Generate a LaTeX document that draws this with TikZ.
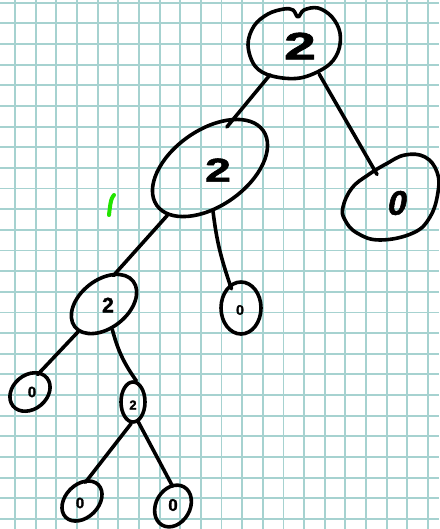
\documentclass[tikz,border=0pt]{standalone}
\usepackage{fontspec}
\setmainfont{Liberation Sans}
\newfontfamily\hand[FakeBold=1.6]{Liberation Sans}
\usetikzlibrary{shapes.geometric}
\definecolor{gridc}{RGB}{166,210,208}
\definecolor{hgreen}{RGB}{34,228,0}
\begin{document}
\begin{tikzpicture}[x=1pt,y=-1pt,
  gridline/.style={gridc, line width=1.9pt},
  bub/.style={draw=black, ellipse, line width=3.6pt, inner sep=0pt},
  hid/.style={ellipse, inner sep=0pt},
  outline/.style={draw=black, line width=3.6pt, line join=round},
  edge/.style={draw=black, line width=3.6pt, line cap=round},
  dig/.style={inner sep=0pt, text=black},
  mark1/.style={hgreen, line width=4pt, line cap=round}]
\fill[white] (0,0) rectangle (439,529);
\useasboundingbox (0,0) rectangle (439,529);
% grid paper
\foreach \k in {0,...,20}{
  \draw[gridline] ({15+20.65*\k},0) -- ({15+20.65*\k},529);
}
\foreach \k in {0,...,25}{
  \draw[gridline] (0,{2.7+20.65*\k}) -- (439,{2.7+20.65*\k});
}
% root (hand-drawn outline)
\node[hid, minimum width=92pt, minimum height=74pt] (r) at (294,43) {};
\draw[outline] plot[smooth cycle, tension=0.6] coordinates {(248,45) (254,26) (268,14) (284,9) (293,10) (298,17) (304,10) (318,8) (332,17) (340,33) (338,52) (326,67) (300,78) (272,76) (255,66)};
\node[dig, font=\fontsize{38}{38}\selectfont\hand\bfseries, xscale=1.5] (t0) at (300,46) {2};
% right child 0
\node[hid, minimum width=96pt, minimum height=84pt, rotate=25] (R) at (390,197) {};
\draw[outline] plot[smooth cycle, tension=0.7] coordinates {(343,207) (352,188) (368,175) (386,164) (405,155) (425,157) (437,172) (438,192) (430,217) (413,233) (380,240) (357,233) (345,220)};
\node[dig, font=\fontsize{34}{34}\selectfont\hand\bfseries, xslant=0.2] (t1) at (398,203) {0};
% middle 2
\node[bub, minimum width=130pt, minimum height=76pt, rotate=35] (m) at (210,168) {};
\node[dig, font=\fontsize{33}{33}\selectfont\hand\bfseries, xscale=1.4] (t2) at (218,170) {2};
% 0 under middle
\node[bub, minimum width=40pt, minimum height=52pt] (z1) at (241,308) {};
\node[dig, font=\fontsize{14}{14}\selectfont\hand\bfseries] (t3) at (240,310) {0};
% left 2
\node[bub, minimum width=74pt, minimum height=48pt, rotate=38] (L) at (104,304) {};
\node[dig, font=\fontsize{21}{21}\selectfont\hand\bfseries] (t4) at (108,305) {2};
% small left 0
\node[bub, minimum width=44pt, minimum height=34pt, rotate=40] (z2) at (30,392) {};
\node[dig, font=\fontsize{15}{15}\selectfont\hand\bfseries] (t5) at (32,392) {0};
% small 2
\node[bub, minimum width=24pt, minimum height=40pt] (s) at (133,402) {};
\node[dig, font=\fontsize{13}{13}\selectfont\hand\bfseries] (t6) at (133,405) {2};
% bottom 0s
\node[bub, minimum width=46pt, minimum height=33pt, rotate=45] (z3) at (82,501) {};
\node[dig, font=\fontsize{15}{15}\selectfont\hand\bfseries] (t7) at (80,503) {0};
\node[bub, minimum width=44pt, minimum height=34pt, rotate=60] (z4) at (173,506) {};
\node[dig, font=\fontsize{17}{17}\selectfont\hand\bfseries] (t8) at (173,505) {0};
% connectors
\draw[edge, shorten >=-12pt] (r.233) -- (m.29);
\draw[edge, shorten >=26pt] (r.-51) -- (R.center);
\draw[edge, shorten >=-4pt] (m.193) -- (L.31);
\draw[edge, shorten >=-5pt] (m.239) to[bend right=6] (z1.115);
\draw[edge, shorten >=-4pt] (L.189) -- (z2.23);
\draw[edge] (L.250) to[bend right=10] (s.81);
\draw[edge, shorten >=-4pt] (s.265) -- (z3.30);
\draw[edge, shorten >=-2pt] (s.285) -- (z4.34);
% green mark
\draw[mark1] plot[smooth, tension=0.7] coordinates {(109,215) (111,201) (114,195)};
\end{tikzpicture}
\end{document}
